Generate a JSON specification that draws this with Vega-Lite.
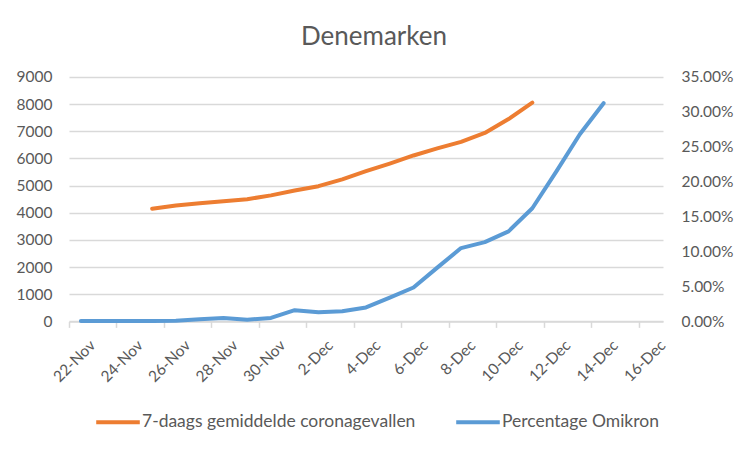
{
  "$schema": "https://vega.github.io/schema/vega-lite/v6.json",
  "autosize": {"type": "none"},
  "width": 594,
  "height": 244.4,
  "padding": {"left": 69, "top": 77, "right": 87, "bottom": 128},
  "background": "white",
  "config": {
    "font": "Lato",
    "view": {"stroke": null},
    "axis": {"labelColor": "#595959", "labelFont": "Lato", "labelFontSize": 15}
  },
  "title": {
    "text": "Denemarken",
    "fontSize": 26,
    "fontWeight": "normal",
    "color": "#595959",
    "font": "Lato",
    "anchor": "middle",
    "dx": 8,
    "offset": 20
  },
  "data": {
    "values": [
      {"date": "25-Nov", "serie": "7-daags gemiddelde coronagevallen", "value": 4150},
      {"date": "26-Nov", "serie": "7-daags gemiddelde coronagevallen", "value": 4270},
      {"date": "27-Nov", "serie": "7-daags gemiddelde coronagevallen", "value": 4350},
      {"date": "28-Nov", "serie": "7-daags gemiddelde coronagevallen", "value": 4420},
      {"date": "29-Nov", "serie": "7-daags gemiddelde coronagevallen", "value": 4500},
      {"date": "30-Nov", "serie": "7-daags gemiddelde coronagevallen", "value": 4640},
      {"date": "1-Dec", "serie": "7-daags gemiddelde coronagevallen", "value": 4820},
      {"date": "2-Dec", "serie": "7-daags gemiddelde coronagevallen", "value": 4980},
      {"date": "3-Dec", "serie": "7-daags gemiddelde coronagevallen", "value": 5230},
      {"date": "4-Dec", "serie": "7-daags gemiddelde coronagevallen", "value": 5530},
      {"date": "5-Dec", "serie": "7-daags gemiddelde coronagevallen", "value": 5810},
      {"date": "6-Dec", "serie": "7-daags gemiddelde coronagevallen", "value": 6110},
      {"date": "7-Dec", "serie": "7-daags gemiddelde coronagevallen", "value": 6370},
      {"date": "8-Dec", "serie": "7-daags gemiddelde coronagevallen", "value": 6610},
      {"date": "9-Dec", "serie": "7-daags gemiddelde coronagevallen", "value": 6940},
      {"date": "10-Dec", "serie": "7-daags gemiddelde coronagevallen", "value": 7450},
      {"date": "11-Dec", "serie": "7-daags gemiddelde coronagevallen", "value": 8060},
      {"date": "22-Nov", "serie": "Percentage Omikron", "value": 0.0005},
      {"date": "23-Nov", "serie": "Percentage Omikron", "value": 0.0005},
      {"date": "24-Nov", "serie": "Percentage Omikron", "value": 0.0005},
      {"date": "25-Nov", "serie": "Percentage Omikron", "value": 0.0005},
      {"date": "26-Nov", "serie": "Percentage Omikron", "value": 0.001},
      {"date": "27-Nov", "serie": "Percentage Omikron", "value": 0.003},
      {"date": "28-Nov", "serie": "Percentage Omikron", "value": 0.005},
      {"date": "29-Nov", "serie": "Percentage Omikron", "value": 0.0025},
      {"date": "30-Nov", "serie": "Percentage Omikron", "value": 0.005},
      {"date": "1-Dec", "serie": "Percentage Omikron", "value": 0.016},
      {"date": "2-Dec", "serie": "Percentage Omikron", "value": 0.013},
      {"date": "3-Dec", "serie": "Percentage Omikron", "value": 0.0145},
      {"date": "4-Dec", "serie": "Percentage Omikron", "value": 0.02},
      {"date": "5-Dec", "serie": "Percentage Omikron", "value": 0.034},
      {"date": "6-Dec", "serie": "Percentage Omikron", "value": 0.0485},
      {"date": "7-Dec", "serie": "Percentage Omikron", "value": 0.077},
      {"date": "8-Dec", "serie": "Percentage Omikron", "value": 0.105},
      {"date": "9-Dec", "serie": "Percentage Omikron", "value": 0.1135},
      {"date": "10-Dec", "serie": "Percentage Omikron", "value": 0.129},
      {"date": "11-Dec", "serie": "Percentage Omikron", "value": 0.162},
      {"date": "12-Dec", "serie": "Percentage Omikron", "value": 0.214},
      {"date": "13-Dec", "serie": "Percentage Omikron", "value": 0.268},
      {"date": "14-Dec", "serie": "Percentage Omikron", "value": 0.3125}
    ]
  },
  "encoding": {
    "x": {
      "field": "date",
      "type": "ordinal",
      "bandPosition": 0.5,
      "scale": {
        "type": "band",
        "paddingInner": 0,
        "paddingOuter": 0,
        "domain": ["22-Nov","23-Nov","24-Nov","25-Nov","26-Nov","27-Nov","28-Nov","29-Nov","30-Nov","1-Dec","2-Dec","3-Dec","4-Dec","5-Dec","6-Dec","7-Dec","8-Dec","9-Dec","10-Dec","11-Dec","12-Dec","13-Dec","14-Dec","15-Dec","16-Dec"]
      },
      "axis": {
        "title": null,
        "values": ["22-Nov","24-Nov","26-Nov","28-Nov","30-Nov","2-Dec","4-Dec","6-Dec","8-Dec","10-Dec","12-Dec","14-Dec","16-Dec"],
        "bandPosition": 0,
        "labelOffset": 11.9,
        "labelAngle": -45,
        "labelAlign": "right",
        "labelBaseline": "middle",
        "labelPadding": 15,
        "labelFontSize": 15.5,
        "tickSize": 6,
        "tickColor": "#D9D9D9",
        "tickWidth": 1.5,
        "domainColor": "#D9D9D9",
        "domainWidth": 1.5,
        "grid": false
      }
    },
    "color": {
      "field": "serie",
      "type": "nominal",
      "scale": {
        "domain": ["7-daags gemiddelde coronagevallen", "Percentage Omikron"],
        "range": ["#ED7D31", "#5B9BD5"]
      },
      "legend": {
        "title": null,
        "orient": "none",
        "direction": "horizontal",
        "legendX": 25,
        "legendY": 321,
        "symbolType": "stroke",
        "symbolSize": 1900,
        "symbolStrokeWidth": 4,
        "labelOffset": 0,
        "labelLimit": 500,
        "columnPadding": 32,
        "labelFontSize": 17.5,
        "labelColor": "#595959",
        "labelFont": "Lato"
      }
    }
  },
  "layer": [
    {
      "transform": [{"filter": "datum.serie === '7-daags gemiddelde coronagevallen'"}],
      "mark": {"type": "line", "strokeWidth": 4, "strokeCap": "round", "strokeJoin": "round"},
      "encoding": {
        "y": {
          "field": "value",
          "type": "quantitative",
          "scale": {"domain": [0, 9000], "nice": false},
          "axis": {
            "title": null,
            "orient": "left",
            "values": [0,1000,2000,3000,4000,5000,6000,7000,8000,9000],
            "format": "d",
            "domain": false,
            "ticks": false,
            "labelPadding": 17,
            "labelFontSize": 15.5,
            "grid": true,
            "gridColor": "#D9D9D9",
            "gridWidth": 1.3
          }
        }
      }
    },
    {
      "transform": [{"filter": "datum.serie === 'Percentage Omikron'"}],
      "mark": {"type": "line", "strokeWidth": 4, "strokeCap": "round", "strokeJoin": "round"},
      "encoding": {
        "y": {
          "field": "value",
          "type": "quantitative",
          "scale": {"domain": [0, 0.35], "nice": false},
          "axis": {
            "title": null,
            "orient": "right",
            "values": [0,0.05,0.1,0.15,0.2,0.25,0.3,0.35],
            "format": ".2%",
            "domain": false,
            "ticks": false,
            "labelPadding": 18,
            "labelFontSize": 15.5,
            "grid": false
          }
        }
      }
    }
  ],
  "resolve": {"scale": {"y": "independent"}}
}
